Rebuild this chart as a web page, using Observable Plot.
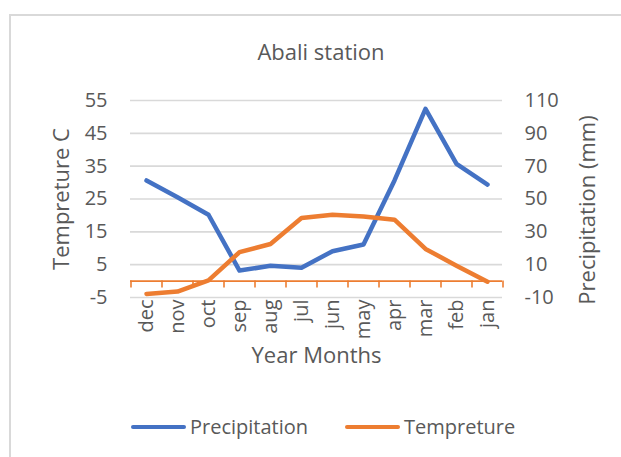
<!DOCTYPE html>
<html>
<head>
<meta charset="utf-8">
<script src="https://cdn.jsdelivr.net/npm/d3@7"></script>
<script src="https://cdn.jsdelivr.net/npm/@observablehq/plot@0.6"></script>
<style>
  html, body { margin: 0; padding: 0; background: #fff; }
  #wrap { position: relative; width: 621px; height: 457px; overflow: hidden; font-family: "Open Sans", sans-serif; color: #595959; }
  #frame { position: absolute; left: 9px; top: 14px; width: 700px; height: 500px; border-left: 2px solid #d9d9d9; border-top: 2px solid #d9d9d9; box-sizing: border-box; }
  #title { position: absolute; left: 221px; width: 200px; top: 36px; line-height: 30px; font-size: 22px; text-align: center; white-space: nowrap; }
  #chart { position: absolute; left: 0; top: 80px; }
  .leg { position: absolute; top: 413px; height: 28px; display: flex; align-items: center; font-size: 20px; line-height: 28px; white-space: nowrap; }
  .sw { width: 55px; height: 4.5px; border-radius: 3px; margin-right: 4px; }
</style>
</head>
<body>
<div id="wrap">
  <div id="frame"></div>
  <div id="title">Abali station</div>
  <div id="chart"></div>
  <div id="legend"></div>
</div>
<script>
// ---- data ----
const months = ["dec","nov","oct","sep","aug","jul","jun","may","apr","mar","feb","jan"];
const precipitation = [61.3, 51.1, 40.4, 6.4, 9.3, 8.1, 18.2, 22.3, 61.3, 104.9, 71.4, 58.8];
const temperature = [-3.9, -3.2, 0.2, 8.8, 11.3, 19.2, 20.2, 19.7, 18.7, 9.8, 4.7, -0.2];
const leftTicks = [-5, 5, 15, 25, 35, 45, 55];
const rightTicks = [-10, 10, 30, 50, 70, 90, 110];
const seriesNames = ["Precipitation", "Tempreture"];
const colors = ["#4472C4", "#ED7D31"];

// secondary axis mapped onto the primary (left) scale
const L0 = leftTicks[0], L1 = leftTicks[leftTicks.length - 1];
const R0 = rightTicks[0], R1 = rightTicks[rightTicks.length - 1];
const toLeft = (p) => L0 + (p - R0) * (L1 - L0) / (R1 - R0);

const precipRows = months.map((m, i) => ({month: m, v: toLeft(precipitation[i])}));
const tempRows = months.map((m, i) => ({month: m, v: temperature[i]}));

const W = 621, H = 300, mL = 130, mR = 119, mT = 20, mB = 83;
const step = (W - mL - mR) / months.length;
const grey = "#595959";

const chart = Plot.plot({
  width: W, height: H,
  marginLeft: mL, marginRight: mR, marginTop: mT, marginBottom: mB,
  style: {fontFamily: "Open Sans", fontSize: "20px", color: grey, background: "transparent", overflow: "visible"},
  x: {type: "point", domain: months, padding: 0.5, axis: null},
  y: {domain: [L0, L1], axis: null},
  marks: [
    Plot.gridY(leftTicks, {stroke: "#d9d9d9", strokeOpacity: 1, strokeWidth: 1.6}),
    Plot.ruleY([0], {stroke: colors[1], strokeWidth: 1.6}),
    Plot.ruleX(months, {x: d => d, y1: 0, y2: 0, dx: -step / 2, insetBottom: -7, stroke: colors[1], strokeWidth: 1.6}),
    Plot.ruleX([months[months.length - 1]], {x: d => d, y1: 0, y2: 0, dx: step / 2, insetBottom: -7, stroke: colors[1], strokeWidth: 1.6}),
    Plot.axisY(leftTicks, {anchor: "left", tickSize: 0, tickPadding: 23, fontSize: 20, label: null, tickFormat: d => String(d)}),
    Plot.text(rightTicks, {y: d => toLeft(d), text: d => String(d), frameAnchor: "right", dx: 22, textAnchor: "start", fontSize: 20}),
    Plot.axisX({tickRotate: -90, tickSize: 0, tickPadding: 2, fontSize: 20, label: null}),
    Plot.text(["Year Months"], {frameAnchor: "bottom", dy: 65, fontSize: 22}),
    Plot.text(["Tempreture C"], {frameAnchor: "left", dx: -69, rotate: -90, textAnchor: "middle", lineAnchor: "middle", fontSize: 22}),
    Plot.text(["Precipitation (mm)"], {frameAnchor: "right", dx: 85, dy: 11, rotate: -90, textAnchor: "middle", lineAnchor: "middle", fontSize: 22}),
    Plot.line(precipRows, {x: "month", y: "v", stroke: colors[0], strokeWidth: 4.5, strokeLinejoin: "round", strokeLinecap: "round"}),
    Plot.line(tempRows, {x: "month", y: "v", stroke: colors[1], strokeWidth: 4.5, strokeLinejoin: "round", strokeLinecap: "round"})
  ]
});
document.getElementById("chart").appendChild(chart);

// legend
const legend = document.getElementById("legend");
const legLefts = [131, 345];
seriesNames.forEach((name, i) => {
  const item = document.createElement("div");
  item.className = "leg";
  item.style.left = legLefts[i] + "px";
  const sw = document.createElement("div");
  sw.className = "sw";
  sw.style.background = colors[i];
  const t = document.createElement("span");
  t.textContent = name;
  item.appendChild(sw);
  item.appendChild(t);
  legend.appendChild(item);
});
</script>
</body>
</html>
